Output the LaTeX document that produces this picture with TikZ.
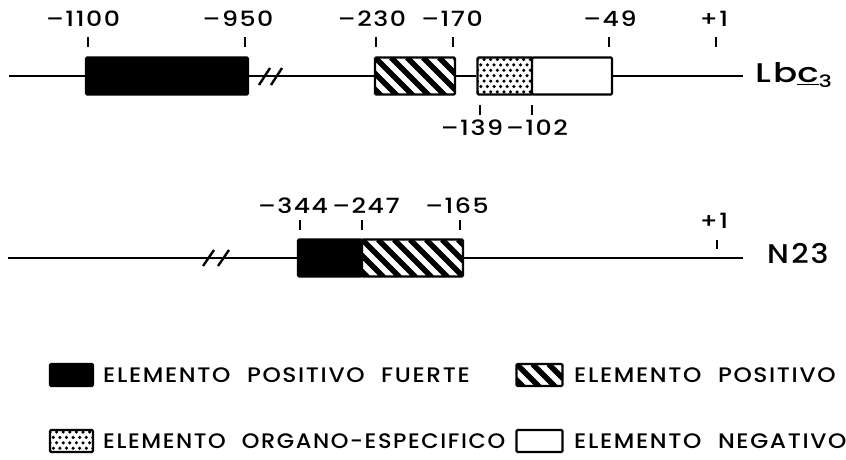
\documentclass[tikz,border=0pt]{standalone}
\usepackage{fontspec}
\setmainfont{Poppins}[UprightFont={* Medium}]
\newcommand{\stx}[2][1.2]{\scalebox{#1}[1]{#2}}
\newcommand{\legfont}{\fontsize{21}{21}\selectfont\addfontfeatures{LetterSpace=7}\spaceskip=15pt\relax}
\begin{document}
\begin{tikzpicture}[x=1pt,y=-1pt,
  ln/.style={line width=2.4pt},
  tk/.style={line width=2.4pt},
  boxbase/.style={draw, line width=2.2pt, inner sep=0pt, rounded corners=1.2pt, minimum height=37pt},
  blkbox/.style={boxbase, fill=black},
  negbox/.style={boxbase, fill=white},
  hatbox/.style={boxbase, fill=white, path picture={
     \foreach \i in {-64,-48,...,200}
       \draw[black, line width=5.6pt] ([xshift=\i pt]path picture bounding box.north west) -- ++(60pt,-60pt);}},
  dotbox/.style={boxbase, fill=white, path picture={
     \foreach \rr in {0,...,8} \foreach \cc in {0,...,14}
       \fill[black] ([xshift={\cc*6.6+mod(\rr,2)*3.3}, yshift={-\rr*5.4-2}]path picture bounding box.north west) circle (1.75pt);}},
  num/.style={font=\fontsize{21}{21}\selectfont\addfontfeatures{LetterSpace=6}, inner sep=0pt},
  big/.style={font=\fontsize{27}{27}\selectfont\addfontfeatures{LetterSpace=6}, inner sep=0pt},
  leg/.style={font=\legfont, inner sep=0pt, anchor=west},
  legbox/.style={minimum height=22pt},
]
\useasboundingbox (0,0) rectangle (846,460);
% ---------- top row (Lbc3)
\node[blkbox, minimum width=162pt] (t1) at (167,76) {};
\node[hatbox, minimum width=80pt] (t2) at (415,76) {};
\node[dotbox, minimum width=55pt] (t3) at (505,76) {};
\node[negbox, minimum width=80pt] (t4) at (572,76) {};
\coordinate (tL) at (9,76);
\coordinate (tR) at (743,76);
\draw[ln] (tL) -- (t1.west);
\draw[ln] (t1.east) -- (t2.west);
\draw[ln] (t2.east) -- (t3.west);
\draw[ln] (t4.east) -- (tR);
\draw[ln] (259,85) -- (270,68);
\draw[ln] (271,85) -- (282,68);
\foreach \x in {88,245,376,453,609,716} \draw[tk] (\x,37) -- (\x,47);
\node[num] (a1) at (83,19) {\stx{–1100}};
\node[num] (a2) at (238,19) {\stx{–950}};
\node[num] (a3) at (372,19) {\stx{–230}};
\node[num] (a4) at (452,19) {\stx{–170}};
\node[num] (a5) at (610,19) {\stx{–49}};
\node[num] (a6) at (714,19) {\stx{+1}};
\foreach \x in {480,532} \draw[tk] (\x,105) -- (\x,115);
\node[num] (a7) at (472,128) {\stx{–139}};
\node[num] (a8) at (537,128) {\stx{–102}};
\node[big, anchor=west] (lbc) at (755,75) {\stx[1.32]{Lb\underline{c}\raisebox{-0.35ex}{\fontsize{17}{17}\selectfont 3}}};
% ---------- bottom row (N23)
\node[blkbox, minimum width=64pt] (b1) at (330,258) {};
\node[hatbox, minimum width=101pt] (b2) at (412.5,258) {};
\coordinate (bL) at (8,258);
\coordinate (bR) at (743,258);
\draw[ln] (bL) -- (b1.west);
\draw[ln] (b2.east) -- (bR);
\draw[ln] (203,266) -- (214,250);
\draw[ln] (218,266) -- (229,250);
\foreach \x in {300,362,460} \draw[tk] (\x,220) -- (\x,230);
\draw[tk] (717,240) -- (717,249);
\node[num] (c1) at (293,206) {\stx{–344}};
\node[num] (c2) at (366,206) {\stx{–247}};
\node[num] (c3) at (457,206) {\stx{–165}};
\node[num] (c4) at (714,221) {\stx{+1}};
\node[big, anchor=west] (n23) at (767,253) {\stx[1.12]{N\kern2pt 23}};
% ---------- legend
\node[blkbox, legbox, minimum width=43pt] (k1) at (71.5,375) {};
\node[leg] (k1t) at (103,375) {\stx[1.11]{ELEMENTO POSITIVO FUERTE}};
\node[hatbox, legbox, minimum width=46pt] (k2) at (539.5,375) {};
\node[leg] (k2t) at (574,375) {\stx[1.11]{ELEMENTO POSITIVO}};
\node[dotbox, legbox, minimum width=43pt] (k3) at (71.5,441) {};
\node[leg] (k3t) at (103,441) {\stx[1.07]{ELEMENTO ORGANO-ESPECIFICO}};
\node[negbox, legbox, minimum width=46pt] (k4) at (539.5,441) {};
\node[leg] (k4t) at (574,441) {\stx[1.11]{ELEMENTO NEGATIVO}};
\end{tikzpicture}
\end{document}
